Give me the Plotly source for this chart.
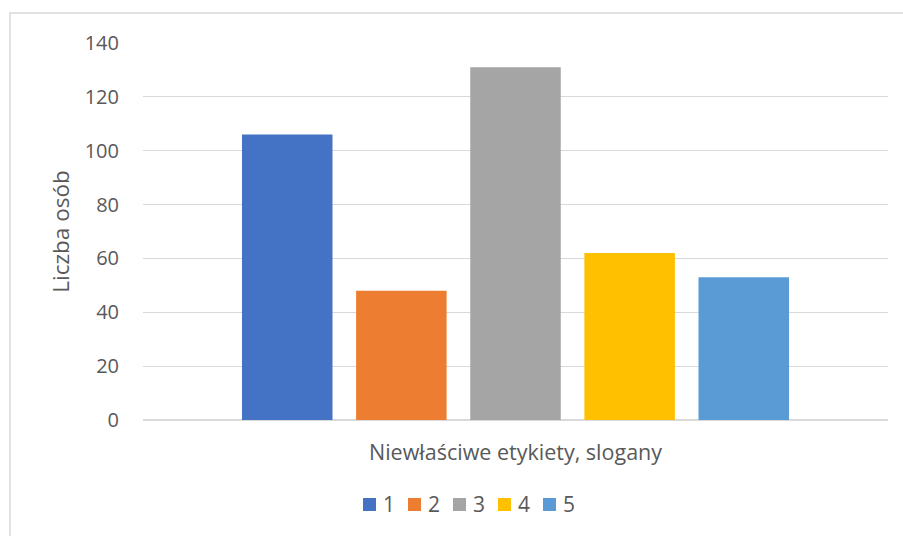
import plotly.graph_objects as go

category = ["Niewłaściwe etykiety, slogany"]
series_names = ["1", "2", "3", "4", "5"]
series_values = [106, 48, 131, 62, 53]
series_colors = ["#4472C4", "#ED7D31", "#A5A5A5", "#FFC000", "#5B9BD5"]
y_ticks = [0, 20, 40, 60, 80, 100, 120, 140]

W, H = 903, 536
L, R, T, B = 143, 15, 43, 116
pw, ph = W - L - R, H - T - B

def px_x(x):
    return (x - L) / pw

def px_y(y):
    return (H - B - y) / ph

fig = go.Figure()
for name, val, col in zip(series_names, series_values, series_colors):
    fig.add_trace(go.Bar(x=category, y=[val], name=name, marker=dict(color=col, line_width=0)))

font_family = "Open Sans, Liberation Sans, sans-serif"
text_color = "#595959"

# Legend row below the axis title: colour swatch followed by the series name
shapes = [dict(type="rect", xref="paper", yref="paper",
               x0=px_x(10), x1=px_x(910), y0=px_y(545), y1=px_y(13),
               line=dict(color="#D9D9D9", width=1.5), fillcolor="rgba(0,0,0,0)", layer="below")]
annotations = []
leg_x0, leg_pitch, sw, leg_cy = 363, 45, 13, 504.5
for i, (name, col) in enumerate(zip(series_names, series_colors)):
    sx = leg_x0 + i * leg_pitch
    shapes.append(dict(type="rect", xref="paper", yref="paper",
                       x0=px_x(sx), x1=px_x(sx + sw),
                       y0=px_y(leg_cy + sw / 2), y1=px_y(leg_cy - sw / 2),
                       line_width=0, fillcolor=col))
    annotations.append(dict(text=name, xref="paper", yref="paper",
                            x=px_x(sx + sw + 5), y=px_y(leg_cy), xanchor="left", yanchor="middle",
                            showarrow=False,
                            font=dict(family=font_family, size=21, color=text_color)))

fig.update_layout(
    width=W, height=H,
    margin=dict(l=L, r=R, t=T, b=B),
    paper_bgcolor="white", plot_bgcolor="white",
    barmode="group", bargap=0.234, bargroupgap=0.207,
    font=dict(family=font_family, color=text_color, size=20),
    xaxis=dict(showgrid=False, showline=False, ticks="", tickfont=dict(size=21.5),
               ticklabelstandoff=17),
    yaxis=dict(range=[0, 140], tickvals=y_ticks, showgrid=True, gridcolor="#D9D9D9",
               gridwidth=1, zeroline=True, zerolinecolor="#D9D9D9", zerolinewidth=1.5,
               ticks="", ticklabelstandoff=23, tickfont=dict(size=20),
               title=dict(text="Liczba osób", font=dict(size=22.5), standoff=8)),
    showlegend=False,
    shapes=shapes,
    annotations=annotations,
)

fig.write_html("out.html")
